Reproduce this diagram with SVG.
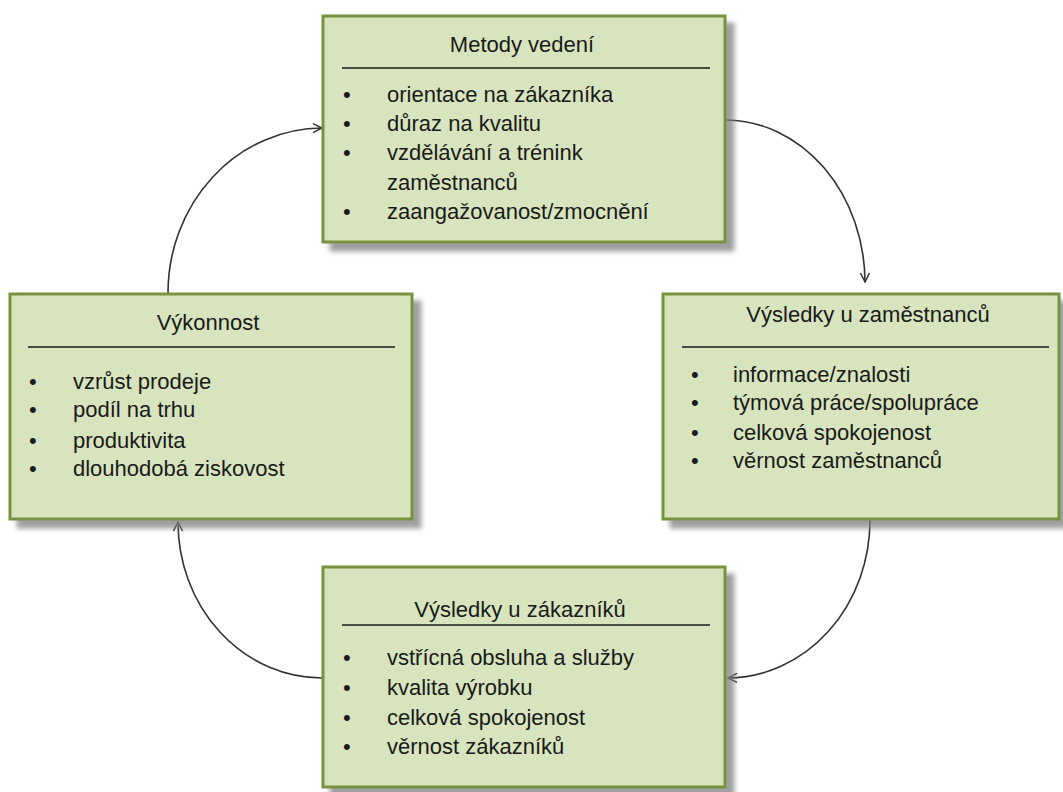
<svg xmlns="http://www.w3.org/2000/svg" width="1063" height="792" viewBox="0 0 1063 792">
  <defs>
    <filter id="shadow" x="-10%" y="-10%" width="130%" height="130%">
      <feDropShadow dx="8" dy="8" stdDeviation="2.5" flood-color="#808080" flood-opacity="0.75"/>
    </filter>
    <marker id="arrow" viewBox="0 0 12 12" refX="11" refY="6" markerWidth="12" markerHeight="12" markerUnits="userSpaceOnUse" orient="auto">
      <path d="M2,1.5 L11,6 L2,10.5" fill="none" stroke="#333" stroke-width="1.5"/>
    </marker>
    <style>
      .box { fill: #d7e4bd; stroke: #77933c; stroke-width: 3; filter: url(#shadow); }
      .rule { stroke: #1a1a1a; stroke-width: 1.6; }
      text { font-family: "Liberation Sans", Arial, sans-serif; font-size: 22px; fill: #1a1a1a; }
      .title { text-anchor: middle; }
      .conn { fill: none; stroke: #333; stroke-width: 1.6; marker-end: url(#arrow); }
    </style>
  </defs>
  <rect width="1063" height="792" fill="#ffffff"/>

  <!-- connectors -->
  <g id="connectors">
    <path class="conn" d="M726,120 A140,163 0 0 1 865,282"/>
    <path class="conn" d="M870,520 A143,158 0 0 1 728,678"/>
    <path class="conn" d="M322,678 A144,156 0 0 1 178,522"/>
    <path class="conn" d="M168,293 A155,165 0 0 1 322,128"/>
  </g>

  <!-- Metody vedení -->
  <g id="node-metody">
    <rect class="box" x="323" y="16" width="402" height="226"/>
    <text class="title" x="522" y="52">Metody vedení</text>
    <line class="rule" x1="342" y1="68" x2="710" y2="68"/>
    <text x="343" y="102">•</text><text x="387" y="102">orientace na zákazníka</text>
    <text x="343" y="131">•</text><text x="387" y="131">důraz na kvalitu</text>
    <text x="343" y="160">•</text><text x="387" y="160">vzdělávání a trénink</text>
    <text x="387" y="190">zaměstnanců</text>
    <text x="343" y="219">•</text><text x="387" y="219">zaangažovanost/zmocnění</text>
  </g>

  <!-- Výsledky u zaměstnanců -->
  <g id="node-zamestnanci">
    <rect class="box" x="663" y="294" width="396" height="225"/>
    <text class="title" x="868" y="322">Výsledky u zaměstnanců</text>
    <line class="rule" x1="682" y1="347" x2="1049" y2="347"/>
    <text x="691" y="382">•</text><text x="733" y="382">informace/znalosti</text>
    <text x="691" y="410">•</text><text x="733" y="410">týmová práce/spolupráce</text>
    <text x="691" y="440">•</text><text x="733" y="440">celková spokojenost</text>
    <text x="691" y="468">•</text><text x="733" y="468">věrnost zaměstnanců</text>
  </g>

  <!-- Výkonnost -->
  <g id="node-vykonnost">
    <rect class="box" x="10" y="294" width="402" height="225"/>
    <text class="title" x="208" y="330">Výkonnost</text>
    <line class="rule" x1="28" y1="347" x2="395" y2="347"/>
    <text x="29" y="389">•</text><text x="73" y="389">vzrůst prodeje</text>
    <text x="29" y="417">•</text><text x="73" y="417">podíl na trhu</text>
    <text x="29" y="448">•</text><text x="73" y="448">produktivita</text>
    <text x="29" y="476">•</text><text x="73" y="476">dlouhodobá ziskovost</text>
  </g>

  <!-- Výsledky u zákazníků -->
  <g id="node-zakaznici">
    <rect class="box" x="323" y="567" width="402" height="220"/>
    <text class="title" x="520" y="617">Výsledky u zákazníků</text>
    <line class="rule" x1="342" y1="625" x2="710" y2="625"/>
    <text x="343" y="665">•</text><text x="387" y="665">vstřícná obsluha a služby</text>
    <text x="343" y="695">•</text><text x="387" y="695">kvalita výrobku</text>
    <text x="343" y="725">•</text><text x="387" y="725">celková spokojenost</text>
    <text x="343" y="754">•</text><text x="387" y="754">věrnost zákazníků</text>
  </g>
</svg>
